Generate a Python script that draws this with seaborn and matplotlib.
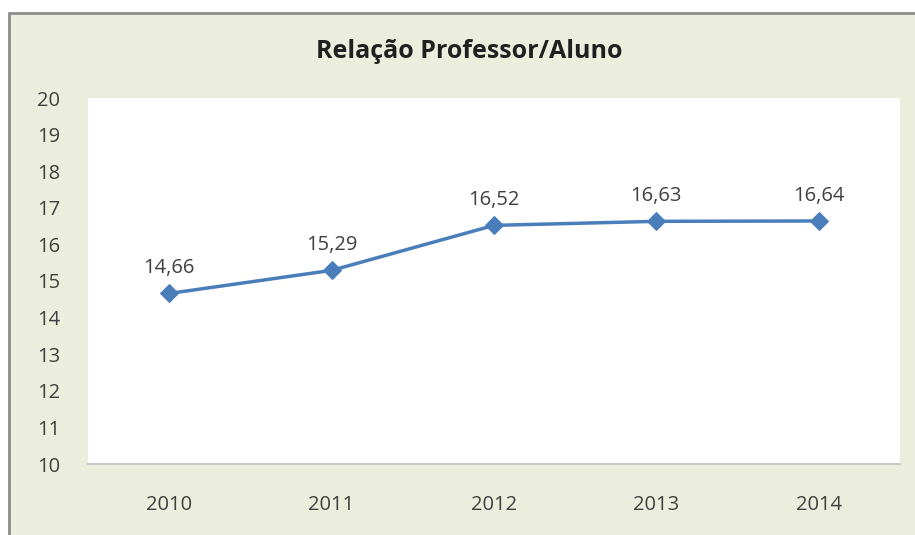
import matplotlib
matplotlib.use("Agg")
import matplotlib.pyplot as plt
import seaborn as sns
import pandas as pd
from matplotlib.patches import Rectangle

years = ["2010", "2011", "2012", "2013", "2014"]
values = [14.66, 15.29, 16.52, 16.63, 16.64]
labels = ["14,66", "15,29", "16,52", "16,63", "16,64"]
yticks = list(range(10, 21))

sns.set_theme(style="white")
plt.rcParams['font.family'] = ['Open Sans', 'DejaVu Sans']

W, H = 915, 535
fig = plt.figure(figsize=(W / 100, H / 100), dpi=100)
fig.patch.set_facecolor("white")
frame = Rectangle((9 / W, -0.02), 1.0, (H - 13) / H + 0.02, transform=fig.transFigure,
                  facecolor="#ebeedd", edgecolor="#8c8c8c", linewidth=2, zorder=-10)
fig.patches.append(frame)

ax = fig.add_axes([88 / W, (H - 464) / H, (900 - 88) / W, (464 - 98) / H])
ax.set_zorder(1)
ax.set_facecolor("white")

df = pd.DataFrame({"Ano": years, "Relacao": values})
sns.lineplot(data=df, x="Ano", y="Relacao", ax=ax, color="#4a7ebb", linewidth=2.5,
             marker="D", markersize=9, markeredgecolor="#4a7ebb", sort=False)

for i, (v, t) in enumerate(zip(values, labels)):
    ax.annotate(t, (i, v), xytext=(0, 11), textcoords="offset points",
                ha="center", va="bottom", fontsize=14.5, color="#404040")

ax.set_xlim(-0.5, len(years) - 0.5)
ax.set_ylim(10, 20)
ax.set_yticks(yticks)
ax.set_xlabel("")
ax.set_ylabel("")
for s in ["top", "right", "left"]:
    ax.spines[s].set_visible(False)
ax.spines["bottom"].set_color("#c8c8c8")
ax.spines["bottom"].set_linewidth(1.5)
ax.tick_params(axis="both", length=0, labelsize=14.5, colors="#404040")
ax.tick_params(axis="x", pad=22)
ax.tick_params(axis="y", pad=36.5)
for lab in ax.get_yticklabels():
    lab.set_horizontalalignment("left")

fig.text(469 / W, 1 - 51 / H, "Relação Professor/Aluno", ha="center", va="center",
         fontsize=18, fontweight="bold", color="#202020")

fig.savefig("out.png", dpi=100, facecolor=fig.get_facecolor())
